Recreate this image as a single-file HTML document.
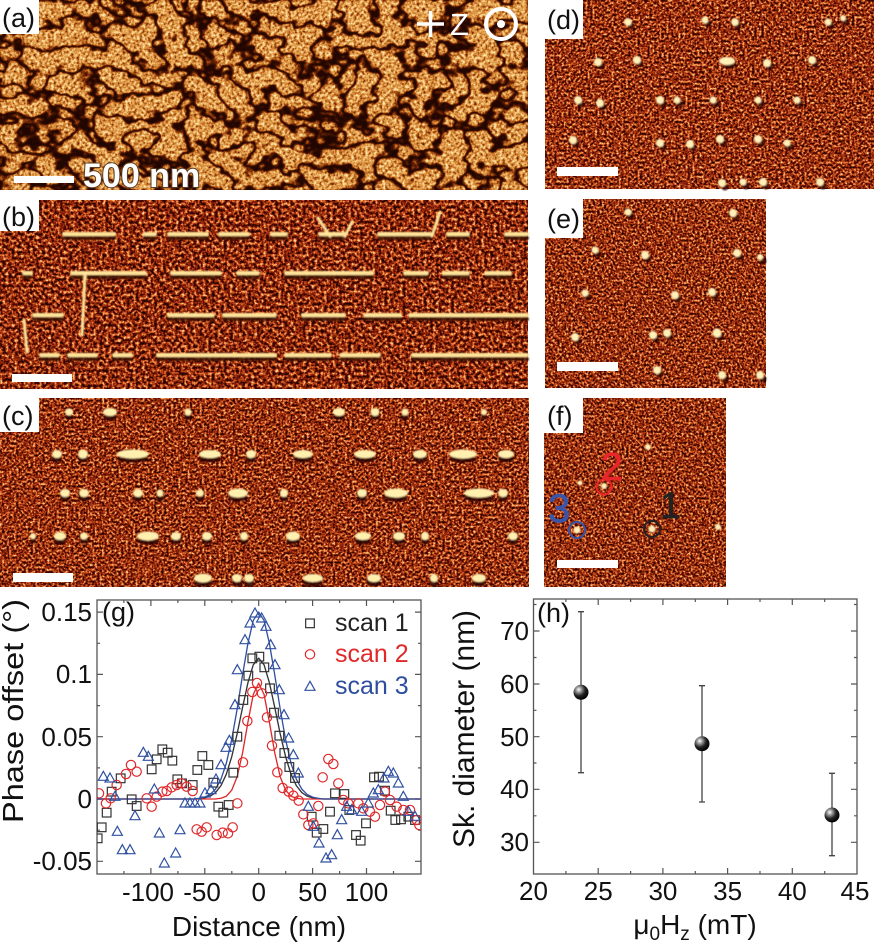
<!DOCTYPE html>
<html><head><meta charset="utf-8"><style>
html,body{margin:0;padding:0;background:#fff;}
svg{display:block;font-family:"Liberation Sans",Arial,sans-serif;}
</style></head><body>
<svg width="874" height="947" viewBox="0 0 874 947" xmlns="http://www.w3.org/2000/svg">
<defs>
<filter id="fa" x="0" y="0" width="1" height="1" color-interpolation-filters="sRGB">
 <feTurbulence type="fractalNoise" baseFrequency="0.032 0.042" numOctaves="3" seed="5" result="big"/>
 <feColorMatrix in="big" type="matrix" values="1 0 0 0 0  1 0 0 0 0  1 0 0 0 0  0 0 0 0 1" result="bg"/>
 <feComponentTransfer in="bg" result="lines0">
  <feFuncR type="table" tableValues="1 1 1 1 1 1 1 1 1 1 1 1 1 1 1 1 1 0.9 0.4 0.05 0 0.05 0.4 0.9 1 1 1 1 1 1 1 1 1 1 1 1 1 1 1 1 1"/>
  <feFuncG type="table" tableValues="1 1 1 1 1 1 1 1 1 1 1 1 1 1 1 1 1 0.9 0.4 0.05 0 0.05 0.4 0.9 1 1 1 1 1 1 1 1 1 1 1 1 1 1 1 1 1"/>
  <feFuncB type="table" tableValues="1 1 1 1 1 1 1 1 1 1 1 1 1 1 1 1 1 0.9 0.4 0.05 0 0.05 0.4 0.9 1 1 1 1 1 1 1 1 1 1 1 1 1 1 1 1 1"/>
 </feComponentTransfer>
 <feGaussianBlur in="lines0" stdDeviation="0.6" result="lines"/>
 <feTurbulence type="fractalNoise" baseFrequency="0.35" numOctaves="2" seed="9" result="fine"/>
 <feColorMatrix in="fine" type="matrix" values="1 0 0 0 0  1 0 0 0 0  1 0 0 0 0  0 0 0 0 1" result="fg"/>
 <feComposite in="lines" in2="fg" operator="arithmetic" k1="1.35" k2="-0.03" k3="0" k4="0" result="mix"/>
 <feComponentTransfer in="mix">
  <feFuncR type="table" tableValues="0.12 0.45 0.78 0.93 1"/>
  <feFuncG type="table" tableValues="0.02 0.15 0.45 0.70 0.92"/>
  <feFuncB type="table" tableValues="0 0.02 0.15 0.38 0.7"/>
  <feFuncA type="table" tableValues="1 1"/>
 </feComponentTransfer>
</filter>
<filter id="fr1" x="0" y="0" width="1" height="1" color-interpolation-filters="sRGB">
 <feTurbulence type="fractalNoise" baseFrequency="0.42" numOctaves="2" seed="11"/>
 <feColorMatrix type="matrix" values="2.0 0 0 0 -0.6  2.0 0 0 0 -0.6  2.0 0 0 0 -0.6  0 0 0 0 1"/>
 <feComponentTransfer>
  <feFuncR type="table" tableValues="0.15 0.45 0.72 0.92 1"/>
  <feFuncG type="table" tableValues="0.02 0.08 0.25 0.52 0.85"/>
  <feFuncB type="table" tableValues="0 0.02 0.08 0.25 0.6"/>
 </feComponentTransfer>
</filter>
<filter id="fr2" x="0" y="0" width="1" height="1" color-interpolation-filters="sRGB">
 <feTurbulence type="fractalNoise" baseFrequency="0.33" numOctaves="3" seed="23"/>
 <feColorMatrix type="matrix" values="2.0 0 0 0 -0.63  2.0 0 0 0 -0.63  2.0 0 0 0 -0.63  0 0 0 0 1"/>
 <feComponentTransfer>
  <feFuncR type="table" tableValues="0.15 0.45 0.72 0.92 1"/>
  <feFuncG type="table" tableValues="0.02 0.08 0.25 0.52 0.85"/>
  <feFuncB type="table" tableValues="0 0.02 0.08 0.25 0.6"/>
 </feComponentTransfer>
</filter>
<filter id="fr3" x="0" y="0" width="1" height="1" color-interpolation-filters="sRGB">
 <feTurbulence type="fractalNoise" baseFrequency="0.45" numOctaves="2" seed="37"/>
 <feColorMatrix type="matrix" values="2.0 0 0 0 -0.6  2.0 0 0 0 -0.6  2.0 0 0 0 -0.6  0 0 0 0 1"/>
 <feComponentTransfer>
  <feFuncR type="table" tableValues="0.15 0.45 0.72 0.92 1"/>
  <feFuncG type="table" tableValues="0.02 0.08 0.25 0.52 0.85"/>
  <feFuncB type="table" tableValues="0 0.02 0.08 0.25 0.6"/>
 </feComponentTransfer>
</filter>
<filter id="bl" x="-20%" y="-50%" width="140%" height="200%"><feGaussianBlur stdDeviation="0.9"/></filter>
<clipPath id="cg"><rect x="97" y="600" width="324" height="274"/></clipPath>
<radialGradient id="sph" cx="0.35" cy="0.32" r="0.7">
 <stop offset="0" stop-color="#ffffff"/>
 <stop offset="0.22" stop-color="#a8a8a8"/>
 <stop offset="0.6" stop-color="#222"/>
 <stop offset="1" stop-color="#000"/>
</radialGradient>
<rect id="m1" x="-13" y="-13" width="26" height="26" fill="none" stroke="#333" stroke-width="3.6"/>
<circle id="m2" r="14" fill="none" stroke="#e0282a" stroke-width="3.6"/>
<polygon id="m3" points="0,-16 15,11 -15,11" fill="none" stroke="#3050a0" stroke-width="3.6"/>
</defs>

<!-- (a) -->
<rect x="0" y="0" width="528" height="190" filter="url(#fa)"/>
<!-- (d) -->
<rect x="545" y="0" width="329" height="189" filter="url(#fr1)"/>
<!-- (b) -->
<rect x="0" y="200" width="528" height="189" filter="url(#fr2)"/>
<!-- (e) -->
<rect x="545" y="199" width="221" height="189" filter="url(#fr3)"/>
<!-- (c) -->
<rect x="0" y="398" width="529" height="189" filter="url(#fr1)"/>
<!-- (f) -->
<rect x="544" y="398" width="182" height="189" filter="url(#fr3)"/>

<!-- (b) stripes -->
<g filter="url(#bl)" stroke-linecap="round">
 <g stroke="#3a0a00" stroke-width="4" opacity="0.85">
  <path d="M64,238H114M145,238H155M169,238H207M220,238H248M272,238H286M320,238H344M379,238H430M448,238H468M506,238H527
  M24,277H31M72,277H145M172,277H220M238,277H258M286,277H372M405,277H427M444,277H468M486,277H510
  M34,319H62M169,319H213M224,319H275M303,319H344M365,319H400M410,319H527
  M41,359H58M69,359H96M114,359H131M158,359H275M286,359H330M341,359H379M413,359H527"/>
 </g>
 <g stroke="#ffe49a" stroke-width="4">
  <path d="M64,234H114M145,234H155M169,234H207M220,234H248M272,234H286M320,234H344M379,234H430M448,234H468M506,234H527
  M24,273H31M72,273H145M172,273H220M238,273H258M286,273H372M405,273H427M444,273H468M486,273H510
  M34,315H62M169,315H213M224,315H275M303,315H344M365,315H400M410,315H527
  M41,355H58M69,355H96M114,355H131M158,355H275M286,355H330M341,355H379M413,355H527"/>
  <path d="M318,218L330,236M345,236L352,222M432,236L440,212M85,276L82,335M24,320L27,352" stroke-width="3"/>
 </g>
</g>

<!-- (c) blobs -->
<g filter="url(#bl)">
 <g fill="#2a0600" opacity="0.85">
  <ellipse cx="69" cy="417" rx="4" ry="3"/><ellipse cx="110" cy="417" rx="7" ry="3"/><ellipse cx="188" cy="417" rx="4" ry="3"/><ellipse cx="339" cy="417" rx="6" ry="3"/><ellipse cx="375" cy="417" rx="5" ry="3"/><ellipse cx="405" cy="417" rx="4" ry="3"/><ellipse cx="484" cy="417" rx="3" ry="3"/>
  <ellipse cx="57" cy="459" rx="5" ry="3.5"/><ellipse cx="83" cy="459" rx="5" ry="3.5"/><ellipse cx="133" cy="459" rx="16" ry="3.5"/><ellipse cx="210" cy="459" rx="11" ry="3.5"/><ellipse cx="251" cy="459" rx="5" ry="3.5"/><ellipse cx="303" cy="459" rx="10" ry="3.5"/><ellipse cx="365" cy="459" rx="11" ry="3.5"/><ellipse cx="420" cy="459" rx="7" ry="3.5"/><ellipse cx="463" cy="459" rx="14" ry="3.5"/><ellipse cx="506" cy="459" rx="8" ry="3.5"/>
  <ellipse cx="65" cy="498" rx="5" ry="3.5"/><ellipse cx="84" cy="498" rx="5" ry="3.5"/><ellipse cx="138" cy="498" rx="5" ry="3.5"/><ellipse cx="160" cy="498" rx="4" ry="3.5"/><ellipse cx="200" cy="498" rx="4" ry="3.5"/><ellipse cx="238" cy="498" rx="10" ry="3.5"/><ellipse cx="284" cy="498" rx="4" ry="3.5"/><ellipse cx="362" cy="498" rx="5" ry="3.5"/><ellipse cx="396" cy="498" rx="12" ry="3.5"/><ellipse cx="479" cy="498" rx="15" ry="3.5"/><ellipse cx="503" cy="498" rx="5" ry="3.5"/>
  <ellipse cx="33" cy="541" rx="3" ry="3"/><ellipse cx="60" cy="541" rx="6" ry="3.5"/><ellipse cx="84" cy="541" rx="4" ry="3"/><ellipse cx="148" cy="541" rx="11" ry="3.5"/><ellipse cx="176" cy="541" rx="5" ry="3.5"/><ellipse cx="207" cy="541" rx="5" ry="3.5"/><ellipse cx="244" cy="541" rx="4" ry="3.5"/><ellipse cx="293" cy="541" rx="7" ry="3.5"/><ellipse cx="363" cy="541" rx="8" ry="3.5"/><ellipse cx="399" cy="541" rx="6" ry="3.5"/><ellipse cx="425" cy="541" rx="4" ry="3.5"/><ellipse cx="513" cy="541" rx="5" ry="3.5"/>
  <ellipse cx="203" cy="583" rx="9" ry="3.5"/><ellipse cx="237" cy="583" rx="5" ry="3.5"/><ellipse cx="249" cy="583" rx="5" ry="3.5"/><ellipse cx="313" cy="583" rx="10" ry="3.5"/><ellipse cx="374" cy="583" rx="7" ry="3.5"/><ellipse cx="434" cy="583" rx="4" ry="3.5"/><ellipse cx="479" cy="583" rx="7" ry="3.5"/>
 </g>
 <g fill="#fff0b0">
  <ellipse cx="69" cy="412" rx="4" ry="3.5"/><ellipse cx="110" cy="412" rx="7" ry="4"/><ellipse cx="188" cy="412" rx="3.5" ry="3.5"/><ellipse cx="339" cy="412" rx="6" ry="4"/><ellipse cx="375" cy="412" rx="4.5" ry="4"/><ellipse cx="405" cy="412" rx="3.5" ry="3.5"/><ellipse cx="484" cy="412" rx="3" ry="3"/>
  <ellipse cx="57" cy="454" rx="5" ry="4"/><ellipse cx="83" cy="454" rx="5" ry="4.5"/><ellipse cx="133" cy="454" rx="16" ry="4.5"/><ellipse cx="210" cy="454" rx="11" ry="4"/><ellipse cx="251" cy="454" rx="5" ry="4"/><ellipse cx="303" cy="454" rx="10" ry="4"/><ellipse cx="365" cy="454" rx="11" ry="4"/><ellipse cx="420" cy="454" rx="7" ry="4"/><ellipse cx="463" cy="454" rx="14" ry="4.5"/><ellipse cx="506" cy="454" rx="8" ry="4"/>
  <ellipse cx="65" cy="493" rx="5" ry="4"/><ellipse cx="84" cy="493" rx="5" ry="4"/><ellipse cx="138" cy="493" rx="5" ry="4"/><ellipse cx="160" cy="493" rx="3.5" ry="3.5"/><ellipse cx="200" cy="493" rx="4" ry="3.5"/><ellipse cx="238" cy="493" rx="10" ry="4.5"/><ellipse cx="284" cy="493" rx="4" ry="4"/><ellipse cx="362" cy="493" rx="5" ry="4"/><ellipse cx="396" cy="493" rx="12" ry="4.5"/><ellipse cx="479" cy="493" rx="15" ry="4.5"/><ellipse cx="503" cy="493" rx="5" ry="4"/>
  <ellipse cx="33" cy="536" rx="3" ry="3"/><ellipse cx="60" cy="536" rx="6" ry="4"/><ellipse cx="84" cy="536" rx="4" ry="3.5"/><ellipse cx="148" cy="536" rx="11" ry="4.5"/><ellipse cx="176" cy="536" rx="5" ry="4"/><ellipse cx="207" cy="536" rx="5" ry="4"/><ellipse cx="244" cy="536" rx="4" ry="4"/><ellipse cx="293" cy="536" rx="7" ry="4.5"/><ellipse cx="363" cy="536" rx="8" ry="4"/><ellipse cx="399" cy="536" rx="6" ry="4"/><ellipse cx="425" cy="536" rx="4" ry="4"/><ellipse cx="513" cy="536" rx="5" ry="4"/>
  <ellipse cx="203" cy="578" rx="9" ry="4.5"/><ellipse cx="237" cy="578" rx="5" ry="4"/><ellipse cx="249" cy="578" rx="5" ry="4"/><ellipse cx="313" cy="578" rx="10" ry="4"/><ellipse cx="374" cy="578" rx="7" ry="4"/><ellipse cx="434" cy="578" rx="4" ry="4"/><ellipse cx="479" cy="578" rx="7" ry="4"/>
 </g>
</g>

<!-- (d),(e),(f) spots -->
<g filter="url(#bl)">
 <g fill="#2a0600" opacity="0.8">
  <circle cx="631" cy="26" r="3.5"/><circle cx="708" cy="24" r="3.5"/><circle cx="738" cy="26" r="3.5"/><circle cx="831" cy="26" r="3.5"/><circle cx="846" cy="22" r="3.5"/>
  <circle cx="601" cy="66" r="3.5"/><circle cx="640" cy="64" r="3.5"/><ellipse cx="730" cy="65" rx="7" ry="3.5"/><circle cx="770" cy="67" r="3.5"/><circle cx="815" cy="64" r="3.5"/>
  <circle cx="581" cy="104" r="3.5"/><circle cx="603" cy="107" r="3.5"/><circle cx="663" cy="104" r="3.5"/><circle cx="680" cy="104" r="3.5"/><circle cx="716" cy="104" r="3.5"/><circle cx="761" cy="104" r="3.5"/><circle cx="800" cy="104" r="3.5"/>
  <circle cx="576" cy="144" r="3.5"/><circle cx="663" cy="147" r="3.5"/><circle cx="693" cy="148" r="3.5"/><circle cx="723" cy="143" r="3.5"/><circle cx="761" cy="143" r="3.5"/><circle cx="790" cy="147" r="3.5"/>
  <circle cx="725" cy="187" r="3.5"/><circle cx="746" cy="186" r="3.5"/><circle cx="766" cy="186" r="3.5"/><circle cx="823" cy="186" r="3.5"/>
  <circle cx="631" cy="216" r="3.5"/><circle cx="736" cy="217" r="3.5"/><circle cx="598" cy="254" r="3.5"/><circle cx="648" cy="259" r="3.5"/><circle cx="740" cy="257" r="3.5"/><circle cx="763" cy="261" r="3.5"/>
  <circle cx="588" cy="297" r="3.5"/><circle cx="678" cy="299" r="3.5"/><circle cx="715" cy="296" r="3.5"/><circle cx="578" cy="341" r="3.5"/><circle cx="656" cy="339" r="3.5"/><circle cx="670" cy="337" r="3.5"/><circle cx="720" cy="337" r="3.5"/>
  <circle cx="660" cy="374" r="3.5"/><circle cx="725" cy="379" r="3.5"/><circle cx="763" cy="379" r="3.5"/>
 </g>
 <g fill="#fff0b8">
  <circle cx="628" cy="22" r="3.8"/><circle cx="705" cy="20" r="3.5"/><circle cx="735" cy="22" r="3.8"/><circle cx="828" cy="22" r="3.5"/><circle cx="843" cy="18" r="3"/>
  <circle cx="598" cy="62" r="4"/><circle cx="637" cy="60" r="4"/><ellipse cx="727" cy="61" rx="8" ry="4"/><circle cx="767" cy="63" r="4"/><circle cx="812" cy="60" r="4"/>
  <circle cx="578" cy="100" r="4"/><circle cx="600" cy="103" r="4"/><circle cx="660" cy="100" r="4"/><circle cx="677" cy="100" r="3.5"/><circle cx="713" cy="100" r="3.5"/><circle cx="758" cy="100" r="3.5"/><circle cx="797" cy="100" r="3.5"/>
  <circle cx="573" cy="140" r="4"/><circle cx="660" cy="143" r="4"/><circle cx="690" cy="144" r="4"/><circle cx="720" cy="139" r="4"/><circle cx="758" cy="139" r="4"/><circle cx="787" cy="143" r="3.5"/>
  <circle cx="722" cy="183" r="4"/><circle cx="743" cy="182" r="3.5"/><circle cx="763" cy="182" r="4"/><circle cx="820" cy="182" r="4"/>
  <circle cx="628" cy="212" r="3.5"/><circle cx="733" cy="213" r="4"/><circle cx="595" cy="250" r="3.5"/><circle cx="645" cy="255" r="4"/><circle cx="737" cy="253" r="4"/><circle cx="760" cy="257" r="3"/>
  <circle cx="585" cy="293" r="3.5"/><circle cx="675" cy="295" r="4"/><circle cx="712" cy="292" r="4"/><circle cx="575" cy="337" r="4"/><circle cx="653" cy="335" r="4"/><circle cx="667" cy="333" r="4"/><circle cx="717" cy="333" r="4.5"/>
  <circle cx="657" cy="370" r="4"/><circle cx="722" cy="375" r="4"/><circle cx="760" cy="375" r="4"/>
  <circle cx="604" cy="486" r="3"/><circle cx="577" cy="530" r="3.5"/><circle cx="652" cy="529" r="3.5"/><circle cx="648" cy="447" r="3"/><circle cx="718" cy="527" r="3"/><circle cx="580" cy="483" r="2.5"/>
 </g>
</g>

<!-- (a) annotations -->
<g stroke="#fff" stroke-width="3.5" fill="none">
 <path d="M417,24H444M430.5,11V37"/>
 <circle cx="501" cy="24" r="15" stroke-width="4"/>
</g>
<circle cx="501" cy="24" r="4" fill="#fff"/>
<text x="450" y="35" font-size="31" fill="#fff">Z</text>
<rect x="14" y="176" width="60" height="7" fill="#fff"/>
<text x="83" y="187" font-size="34" font-weight="bold" fill="#fff" stroke="#5a3a20" stroke-width="2" paint-order="stroke">500 nm</text>

<!-- scale bars -->
<g fill="#fff">
 <rect x="12" y="374" width="60" height="8"/>
 <rect x="13" y="573" width="60" height="9"/>
 <rect x="557" y="167" width="61" height="9"/>
 <rect x="557" y="362" width="61" height="9"/>
 <rect x="557" y="560" width="61" height="8"/>
</g>

<!-- (f) annotations -->
<g fill="none" stroke-width="2">
 <circle cx="604" cy="487" r="7.5" stroke="#e8262a"/>
 <circle cx="577" cy="530" r="8" stroke="#3a55a8"/>
 <circle cx="652" cy="529" r="8" stroke="#222"/>
</g>
<text x="601" y="480" font-size="39" fill="#e8262a" stroke="#e8262a" stroke-width="0.8">2</text>
<text x="548" y="522" font-size="40" fill="#3a55a8" stroke="#3a55a8" stroke-width="0.8">3</text>
<text x="660" y="518" font-size="37" fill="#222" stroke="#222" stroke-width="0.8">1</text>

<!-- panel labels -->
<g fill="#fff">
 <rect x="0" y="0" width="39" height="34"/>
 <rect x="0" y="200" width="39" height="31"/>
 <rect x="0" y="398" width="39" height="34"/>
 <rect x="545" y="0" width="38" height="39"/>
 <rect x="545" y="199" width="38" height="39"/>
 <rect x="544" y="398" width="39" height="35"/>
</g>
<g font-size="27" fill="#111">
 <text x="2" y="27">(a)</text>
 <text x="2" y="226">(b)</text>
 <text x="2" y="425">(c)</text>
 <text x="547" y="29">(d)</text>
 <text x="547" y="228">(e)</text>
 <text x="547" y="425">(f)</text>
</g>

<!-- ===== (g) plot ===== -->
<rect x="97" y="600" width="324" height="274" fill="none" stroke="#555" stroke-width="1.3"/>
<g stroke="#555" stroke-width="1.2">
 <path d="M97,612.1h6M97,674.4h6M97,736.7h6M97,799h6M97,861.3h6M421,612.1h-6M421,674.4h-6M421,736.7h-6M421,799h-6M421,861.3h-6"/>
 <path d="M97,643.3h3M97,705.6h3M97,767.9h3M97,830.2h3M421,643.3h-3M421,705.6h-3M421,767.9h-3M421,830.2h-3"/>
 <path d="M150.9,874v-6M204.8,874v-6M258.7,874v-6M312.6,874v-6M366.5,874v-6M150.9,600v6M204.8,600v6M258.7,600v6M312.6,600v6M366.5,600v6"/>
 <path d="M123.9,874v-3M177.9,874v-3M231.8,874v-3M285.7,874v-3M339.6,874v-3M393.5,874v-3M123.9,600v3M177.9,600v3M231.8,600v3M285.7,600v3M339.6,600v3M393.5,600v3"/>
</g>
<g font-size="26" fill="#111" text-anchor="end">
 <text x="92" y="621">0.15</text>
 <text x="92" y="683">0.1</text>
 <text x="92" y="746">0.05</text>
 <text x="92" y="808">0</text>
 <text x="92" y="870">-0.05</text>
</g>
<g font-size="26" fill="#111" text-anchor="middle">
 <text x="148" y="901">-100</text>
 <text x="202" y="901">-50</text>
 <text x="258.7" y="901">0</text>
 <text x="312.6" y="901">50</text>
 <text x="366.5" y="901">100</text>
</g>
<text x="259" y="936" font-size="28" fill="#111" text-anchor="middle">Distance (nm)</text>
<text transform="translate(23,711) rotate(-90)" font-size="29" fill="#111" text-anchor="middle" textLength="224" lengthAdjust="spacingAndGlyphs">Phase offset (°)</text>
<text x="102" y="621" font-size="27" fill="#111">(g)</text>

<g clip-path="url(#cg)">
<g transform="translate(0,590) scale(0.33333)">
 <path fill="none" stroke="#333" stroke-width="4" stroke-linejoin="round" d="M291,627 L582,627 598.1,625.9 614.3,623.6 630.5,618.5 646.6,607.7 662.8,587.3 679,552.6 695.1,500.5 711.3,431.9 727.5,353.4 743.7,278.6 759.8,224.4 776,204.6 792.2,224.4 808.3,278.6 824.5,353.4 840.7,431.9 856.9,500.5 873,552.6 889.2,587.3 905.4,607.7 921.5,618.5 937.7,623.6 953.9,625.9 970,627 L1261,627"/>
 <path fill="none" stroke="#e0282a" stroke-width="4" stroke-linejoin="round" d="M291,627 L646.6,627 662.8,624.8 679,618.6 695.1,600.7 711.3,560.5 727.5,489.8 743.7,397 759.8,313.5 776,279.4 792.2,313.5 808.3,397 824.5,489.8 840.7,560.5 856.9,600.7 873,618.6 889.2,624.8 905.4,627 L1261,627"/>
 <path fill="none" stroke="#3050a0" stroke-width="4" stroke-linejoin="round" d="M291,627 L582,627 598.1,624.8 614.3,621.3 630.5,613.4 646.6,597.3 662.8,567.9 679,519.7 695.1,449.1 711.3,357.9 727.5,256.2 743.7,160.5 759.8,91.3 776,66.3 792.2,91.3 808.3,160.5 824.5,256.2 840.7,357.9 856.9,449.1 873,519.7 889.2,567.9 905.4,597.3 921.5,613.4 937.7,621.3 953.9,624.8 970,627 L1261,627"/>
 <g>
  <use href="#m1" x="293" y="745"/><use href="#m1" x="305" y="712"/><use href="#m1" x="320" y="668"/><use href="#m1" x="335" y="605"/><use href="#m1" x="362" y="565"/><use href="#m1" x="395" y="628"/><use href="#m1" x="410" y="648"/><use href="#m1" x="455" y="538"/><use href="#m1" x="470" y="508"/><use href="#m1" x="487" y="478"/><use href="#m1" x="503" y="488"/><use href="#m1" x="517" y="512"/><use href="#m1" x="532" y="568"/><use href="#m1" x="546" y="580"/><use href="#m1" x="578" y="585"/><use href="#m1" x="592" y="540"/><use href="#m1" x="607" y="498"/><use href="#m1" x="625" y="525"/><use href="#m1" x="640" y="578"/><use href="#m1" x="655" y="650"/><use href="#m1" x="670" y="668"/><use href="#m1" x="686" y="645"/><use href="#m1" x="700" y="548"/><use href="#m1" x="712" y="440"/><use href="#m1" x="730" y="330"/><use href="#m1" x="745" y="257"/><use href="#m1" x="757" y="205"/><use href="#m1" x="778" y="200"/><use href="#m1" x="793" y="232"/><use href="#m1" x="810" y="295"/><use href="#m1" x="822" y="368"/><use href="#m1" x="838" y="437"/><use href="#m1" x="853" y="489"/><use href="#m1" x="868" y="531"/><use href="#m1" x="885" y="564"/><use href="#m1" x="935" y="680"/><use href="#m1" x="950" y="728"/><use href="#m1" x="970" y="717"/><use href="#m1" x="990" y="665"/><use href="#m1" x="1005" y="610"/><use href="#m1" x="1033" y="612"/><use href="#m1" x="1048" y="660"/><use href="#m1" x="1068" y="735"/><use href="#m1" x="1082" y="752"/><use href="#m1" x="1098" y="700"/><use href="#m1" x="1122" y="562"/><use href="#m1" x="1137" y="560"/><use href="#m1" x="1155" y="602"/><use href="#m1" x="1172" y="662"/><use href="#m1" x="1186" y="690"/><use href="#m1" x="1203" y="688"/><use href="#m1" x="1225" y="680"/><use href="#m1" x="1245" y="690"/>
 </g>
 <g>
  <use href="#m2" x="297" y="610"/><use href="#m2" x="318" y="640"/><use href="#m2" x="332" y="625"/><use href="#m2" x="350" y="585"/><use href="#m2" x="378" y="552"/><use href="#m2" x="393" y="525"/><use href="#m2" x="410" y="545"/><use href="#m2" x="440" y="625"/><use href="#m2" x="455" y="650"/><use href="#m2" x="470" y="620"/><use href="#m2" x="487" y="605"/><use href="#m2" x="500" y="603"/><use href="#m2" x="515" y="592"/><use href="#m2" x="530" y="585"/><use href="#m2" x="545" y="580"/><use href="#m2" x="560" y="590"/><use href="#m2" x="578" y="603"/><use href="#m2" x="590" y="718"/><use href="#m2" x="605" y="725"/><use href="#m2" x="620" y="712"/><use href="#m2" x="650" y="735"/><use href="#m2" x="668" y="728"/><use href="#m2" x="684" y="730"/><use href="#m2" x="698" y="712"/><use href="#m2" x="712" y="640"/><use href="#m2" x="729" y="517"/><use href="#m2" x="742" y="393"/><use href="#m2" x="757" y="306"/><use href="#m2" x="771" y="279"/><use href="#m2" x="786" y="310"/><use href="#m2" x="801" y="382"/><use href="#m2" x="816" y="467"/><use href="#m2" x="832" y="547"/><use href="#m2" x="848" y="594"/><use href="#m2" x="866" y="605"/><use href="#m2" x="880" y="617"/><use href="#m2" x="896" y="632"/><use href="#m2" x="910" y="673"/><use href="#m2" x="925" y="705"/><use href="#m2" x="940" y="700"/><use href="#m2" x="955" y="648"/><use href="#m2" x="968" y="562"/><use href="#m2" x="985" y="507"/><use href="#m2" x="1000" y="522"/><use href="#m2" x="1015" y="580"/><use href="#m2" x="1030" y="630"/><use href="#m2" x="1045" y="640"/><use href="#m2" x="1075" y="640"/><use href="#m2" x="1090" y="655"/><use href="#m2" x="1110" y="665"/><use href="#m2" x="1125" y="680"/><use href="#m2" x="1140" y="645"/><use href="#m2" x="1155" y="605"/><use href="#m2" x="1170" y="630"/><use href="#m2" x="1190" y="650"/><use href="#m2" x="1210" y="660"/><use href="#m2" x="1230" y="660"/><use href="#m2" x="1250" y="690"/><use href="#m2" x="1258" y="705"/>
 </g>
 <g>
  <use href="#m3" x="310" y="560"/><use href="#m3" x="330" y="565"/><use href="#m3" x="345" y="620"/><use href="#m3" x="352" y="725"/><use href="#m3" x="367" y="780"/><use href="#m3" x="390" y="780"/><use href="#m3" x="405" y="678"/><use href="#m3" x="430" y="488"/><use href="#m3" x="445" y="500"/><use href="#m3" x="463" y="598"/><use href="#m3" x="478" y="730"/><use href="#m3" x="493" y="820"/><use href="#m3" x="527" y="790"/><use href="#m3" x="540" y="720"/><use href="#m3" x="555" y="640"/><use href="#m3" x="570" y="640"/><use href="#m3" x="585" y="640"/><use href="#m3" x="600" y="640"/><use href="#m3" x="615" y="610"/><use href="#m3" x="633" y="600"/><use href="#m3" x="648" y="568"/><use href="#m3" x="663" y="525"/><use href="#m3" x="678" y="473"/><use href="#m3" x="688" y="452"/><use href="#m3" x="705" y="345"/><use href="#m3" x="712" y="240"/><use href="#m3" x="735" y="150"/><use href="#m3" x="750" y="100"/><use href="#m3" x="765" y="70"/><use href="#m3" x="785" y="85"/><use href="#m3" x="798" y="110"/><use href="#m3" x="812" y="165"/><use href="#m3" x="825" y="225"/><use href="#m3" x="838" y="300"/><use href="#m3" x="852" y="375"/><use href="#m3" x="866" y="445"/><use href="#m3" x="880" y="495"/><use href="#m3" x="895" y="550"/><use href="#m3" x="925" y="650"/><use href="#m3" x="940" y="710"/><use href="#m3" x="957" y="760"/><use href="#m3" x="978" y="805"/><use href="#m3" x="995" y="795"/><use href="#m3" x="1012" y="735"/><use href="#m3" x="1025" y="690"/><use href="#m3" x="1040" y="650"/><use href="#m3" x="1055" y="660"/><use href="#m3" x="1085" y="665"/><use href="#m3" x="1105" y="640"/><use href="#m3" x="1120" y="610"/><use href="#m3" x="1135" y="600"/><use href="#m3" x="1152" y="565"/><use href="#m3" x="1165" y="545"/><use href="#m3" x="1180" y="550"/><use href="#m3" x="1195" y="580"/><use href="#m3" x="1210" y="620"/><use href="#m3" x="1225" y="665"/><use href="#m3" x="1245" y="680"/>
 </g>
</g>
</g>
<!-- legend -->
<g transform="translate(0,590) scale(0.33333)">
 <use href="#m1" x="930" y="100"/>
 <use href="#m2" x="930" y="193"/>
 <use href="#m3" x="930" y="290"/>
</g>
<g font-size="25">
 <text x="335" y="631" fill="#222">scan 1</text>
 <text x="335" y="662" fill="#e0282a">scan 2</text>
 <text x="335" y="694" fill="#2d4d9e">scan 3</text>
</g>

<!-- ===== (h) plot ===== -->
<rect x="533.5" y="599" width="323.5" height="275" fill="none" stroke="#555" stroke-width="1.3"/>
<g stroke="#555" stroke-width="1.2">
 <path d="M533.5,631h6M533.5,684h6M533.5,736.7h6M533.5,789.3h6M533.5,842.3h6M857,631h-6M857,684h-6M857,736.7h-6M857,789.3h-6M857,842.3h-6"/>
 <path d="M533.5,604.5h3M533.5,657.5h3M533.5,710.3h3M533.5,763h3M533.5,815.8h3M857,604.5h-3M857,657.5h-3M857,710.3h-3M857,763h-3M857,815.8h-3"/>
 <path d="M598.2,874v-6M662.9,874v-6M727.6,874v-6M792.3,874v-6M598.2,599v6M662.9,599v6M727.6,599v6M792.3,599v6"/>
 <path d="M565.9,874v-3M630.6,874v-3M695.3,874v-3M760,874v-3M824.7,874v-3M565.9,599v3M630.6,599v3M695.3,599v3M760,599v3M824.7,599v3"/>
</g>
<g font-size="26" fill="#111" text-anchor="end">
 <text x="529" y="640">70</text>
 <text x="529" y="693">60</text>
 <text x="529" y="746">50</text>
 <text x="529" y="798">40</text>
 <text x="529" y="851">30</text>
</g>
<g font-size="26" fill="#111" text-anchor="middle">
 <text x="533.5" y="900">20</text>
 <text x="598.2" y="900">25</text>
 <text x="662.9" y="900">30</text>
 <text x="727.6" y="900">35</text>
 <text x="792.3" y="900">40</text>
 <text x="855" y="900">45</text>
</g>
<text x="695" y="934" font-size="28" fill="#111" text-anchor="middle">μ<tspan font-size="19" dy="6">0</tspan><tspan dy="-6">H</tspan><tspan font-size="19" dy="6">z</tspan><tspan dy="-6"> (mT)</tspan></text>
<text transform="translate(474,729) rotate(-90)" font-size="30" fill="#111" text-anchor="middle" textLength="238" lengthAdjust="spacingAndGlyphs">Sk. diameter (nm)</text>
<text x="537" y="622" font-size="27" fill="#111">(h)</text>
<g stroke="#444" stroke-width="1.3">
 <path d="M581,611.7V772.7M578,611.7h6M578,772.7h6"/>
 <path d="M702,685.7V802M699,685.7h6M699,802h6"/>
 <path d="M832,773.3V855.7M829,773.3h6M829,855.7h6"/>
</g>
<circle cx="581" cy="692.3" r="7.5" fill="url(#sph)"/>
<circle cx="702" cy="743.7" r="7.5" fill="url(#sph)"/>
<circle cx="832" cy="815" r="7.5" fill="url(#sph)"/>
</svg>
</body></html>
